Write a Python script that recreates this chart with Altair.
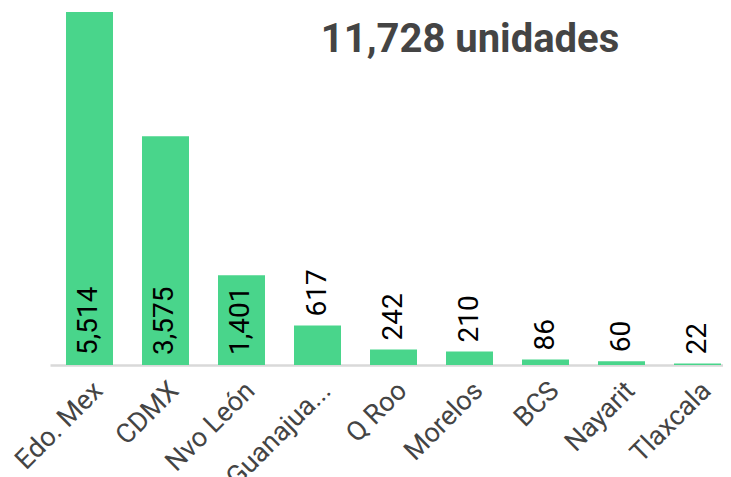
import altair as alt
import pandas as pd

estados = ["Edo. Mex", "CDMX", "Nvo León", "Guanajua...", "Q Roo", "Morelos", "BCS", "Nayarit", "Tlaxcala"]
unidades = [5514, 3575, 1401, 617, 242, 210, 86, 60, 22]
titulo = "11,728 unidades"

df = pd.DataFrame({"estado": estados, "valor": unidades})
df["dentro"] = df["valor"] > 1000

GREEN = "#49d58b"

x = alt.X("estado:N", sort=estados, title=None,
          scale=alt.Scale(paddingInner=0.3816, paddingOuter=0.1184, align=0.889),
          axis=alt.Axis(labelAngle=-45, labelFont="Roboto", labelFontSize=27,
                        labelColor="#444444", ticks=False, domainColor="#d9d9d9",
                        domainWidth=2.5, labelPadding=12, labelLimit=300))
yscale = alt.Scale(domain=[0, 5514], nice=False)
y = alt.Y("valor:Q", title=None, scale=yscale, axis=None)

base = alt.Chart(df)
bars = base.mark_bar(color=GREEN).encode(x=x, y=y)

inside = base.transform_filter("datum.dentro").transform_calculate(zero="0").mark_text(
    angle=270, align="left", baseline="middle", dx=10,
    font="Roboto", fontSize=28, color="#000000"
).encode(x=x, y=alt.Y("zero:Q", scale=yscale, axis=None),
         text=alt.Text("valor:Q", format=","))

outside = base.transform_filter("!datum.dentro").mark_text(
    angle=270, align="left", baseline="middle", dx=9,
    font="Roboto", fontSize=28, color="#000000"
).encode(x=x, y=y, text=alt.Text("valor:Q", format=","))

title_layer = alt.Chart(alt.Data(values=[{"t": titulo}])).mark_text(
    font="Roboto", fontWeight="bold", fontSize=40, color="#444444",
    align="center", baseline="alphabetic"
).encode(text="t:N", x=alt.value(420), y=alt.value(40))

chart = alt.layer(bars, inside, outside, title_layer).properties(
    width=673, height=353,
    autosize=alt.AutoSizeParams(type="none"),
    padding={"left": 42, "top": 4, "right": 0, "bottom": 112},
).configure_view(stroke=None)

chart.save("out.html", embed_options={"renderer": "svg", "actions": False})
